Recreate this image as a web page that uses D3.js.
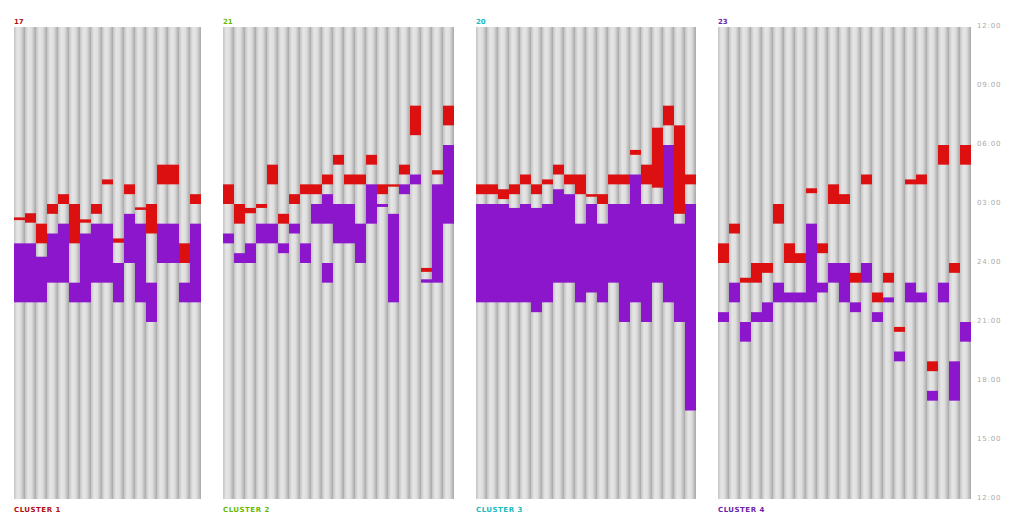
<!DOCTYPE html>
<html><head><meta charset="utf-8">
<script src="https://cdn.jsdelivr.net/npm/d3@7"></script>
<style>
html,body{margin:0;padding:0;background:#fff;}
svg{display:block;}
text{font-family:"DejaVu Sans",Verdana,sans-serif;}
</style></head>
<body>
<svg id="chart" width="1023" height="526"></svg>
<script>
// Hours on a 12..36 clock scale (25 = 01:00 next day)
const clusterNames = ["CLUSTER 1","CLUSTER 2","CLUSTER 3","CLUSTER 4"];
const clusterColors = ["#b01010","#66bb00","#22bbbb","#6a1fa8"];
const tickLabels = ["12:00","15:00","18:00","21:00","24:00","03:00","06:00","09:00","12:00"];
const tickHours = [12,15,18,21,24,27,30,33,36];

// sleep (purple) segments per day
const sleep1 = [[[22,25]],[[22,25]],[[22,24.32]],[[23,25.5]],[[23,26]],[[22,23]],[[22,25.5]],[[23,26]],[[23,26]],[[22,24]],[[24,26.5]],[[22,26]],[[21,23]],[[24,26]],[[24,26]],[[22,23]],[[22,26]]];
const awake1 = [[[26.18,26.32]],[[26.05,26.53]],[[25,26]],[[26.5,27]],[[27,27.5]],[[25,27]],[[26.05,26.22]],[[26.5,27]],[[28,28.25]],[[25.03,25.25]],[[27.5,28]],[[26.7,26.83]],[[25.5,27]],[[28,29]],[[28,29]],[[24,25]],[[27,27.5]]];

const sleep2 = [[[25,25.5]],[[24,24.5]],[[24,25]],[[25,26]],[[25,26]],[[24.5,25]],[[25.5,26]],[[24,25]],[[26,27]],[[26,27.5],[23,24]],[[25,27]],[[25,27]],[[24,26]],[[26,28]],[[26.85,27]],[[22,26.5]],[[27.5,28]],[[28,28.5]],[[23,23.17]],[[23,28]],[[26,30]]];
const awake2 = [[[27,28]],[[26,27]],[[26.53,26.8]],[[26.8,27]],[[28,29]],[[26,26.5]],[[27,27.5]],[[27.5,28]],[[27.5,28]],[[28,28.5]],[[29,29.5]],[[28,28.5]],[[28,28.5]],[[29,29.5]],[[27.5,28]],[[27.88,28]],[[28.5,29]],[[30.5,32]],[[23.55,23.75]],[[28.5,28.72]],[[31,32]]];

const sleep3 = [[[22,27]],[[22,27]],[[22,27]],[[22,26.8]],[[22,27]],[[21.5,26.8]],[[22,27]],[[23,27.75]],[[23,27.5]],[[22,26]],[[22.5,27]],[[22,26]],[[23,27]],[[21,27]],[[22,28.5]],[[21,27]],[[23,27]],[[22,30]],[[21,26]],[[16.5,27]]];
const awake3 = [[[27.5,28]],[[27.5,28]],[[27.25,27.75]],[[27.5,28]],[[28,28.5]],[[27.5,28]],[[28,28.25]],[[28.5,29]],[[28,28.5]],[[27.5,28.5]],[[27.37,27.5]],[[27,27.5]],[[28,28.5]],[[28,28.5]],[[29.5,29.75]],[[28,29]],[[27.83,30.88]],[[31,32]],[[26.5,31]],[[28,28.5]]];

const sleep4 = [[[21,21.5]],[[22,23]],[[20,21]],[[21,21.5]],[[21,22]],[[22,23]],[[22,22.5]],[[22,22.5]],[[22,26]],[[22.5,23]],[[23,24]],[[22,24]],[[21.5,22]],[[23,24]],[[21,21.5]],[[22,22.25]],[[19,19.5]],[[22,23]],[[22,22.5]],[[17,17.5]],[[22,23]],[[17,19]],[[20,21]]];
const awake4 = [[[24,25]],[[25.5,26]],[[23,23.25]],[[23,24]],[[23.5,24]],[[26,27]],[[24,25]],[[24,24.5]],[[27.55,27.8]],[[24.5,25]],[[27,28]],[[27,27.5]],[[23,23.5]],[[28,28.5]],[[22,22.5]],[[23,23.5]],[[20.5,20.75]],[[28,28.25]],[[28,28.5]],[[18.5,19]],[[29,30]],[[23.5,24]],[[29,30]]];

const sleepData = [sleep1, sleep2, sleep3, sleep4];
const awakeData = [awake1, awake2, awake3, awake4];

const svg = d3.select("#chart");
const colW = 11, gap = 22, leftX = 14, topY = 27, bottomY = 499;
const y = d3.scaleLinear().domain([12,36]).range([bottomY, topY]);

const defs = svg.append("defs");
const grad = defs.append("linearGradient").attr("id","stripe").attr("x1","0").attr("x2","1").attr("y1","0").attr("y2","0");
[["0%","#c4c4c4"],["30%","#e6e6e6"],["60%","#dedede"],["100%","#a8a8a8"]].forEach(([o,c])=>grad.append("stop").attr("offset",o).attr("stop-color",c));

let x0 = leftX;
sleepData.forEach((sleep, ci) => {
  const n = sleep.length;
  const days = d3.range(n);
  const xb = d3.scaleBand().domain(days).range([x0, x0 + n*colW]).padding(0);
  const g = svg.append("g");
  g.selectAll("rect.bg").data(days).join("rect").attr("class","bg")
    .attr("x", d=>xb(d)).attr("width", xb.bandwidth())
    .attr("y", y(36)).attr("height", y(12)-y(36)).attr("fill","url(#stripe)");
  const segs = [];
  sleep.forEach((arr,i)=>arr.forEach(s=>segs.push({i,s,t:"sleep"})));
  awakeData[ci].forEach((arr,i)=>arr.forEach(s=>segs.push({i,s,t:"awake"})));
  g.selectAll("rect.seg").data(segs).join("rect").attr("class","seg")
    .attr("x", d=>xb(d.i)).attr("width", xb.bandwidth())
    .attr("y", d=>y(d.s[1])).attr("height", d=>y(d.s[0])-y(d.s[1]))
    .attr("fill", d=>d.t==="sleep" ? "#8c16cc" : "#dc1010");
  svg.append("text").attr("x", x0).attr("y", 24).attr("font-size",7).attr("font-weight","bold")
    .attr("fill", clusterColors[ci]).text(n);
  svg.append("text").attr("x", x0).attr("y", 512).attr("font-size",7).attr("font-weight","bold")
    .attr("letter-spacing","0.5px").attr("fill", clusterColors[ci]).text(clusterNames[ci]);
  x0 += n*colW + gap;
});

const axisRight = d3.axisRight(y).tickValues(tickHours).tickSize(0).tickPadding(0)
  .tickFormat((d,i)=>tickLabels[i]);
const ax = svg.append("g").attr("transform", `translate(${x0 - gap + 6},-2)`).call(axisRight);
ax.select(".domain").remove();
ax.selectAll("text").attr("font-size",7).attr("fill","#aaaaaa").attr("letter-spacing","0.8px")
  .attr("font-family","DejaVu Sans, sans-serif");
</script>
</body></html>
